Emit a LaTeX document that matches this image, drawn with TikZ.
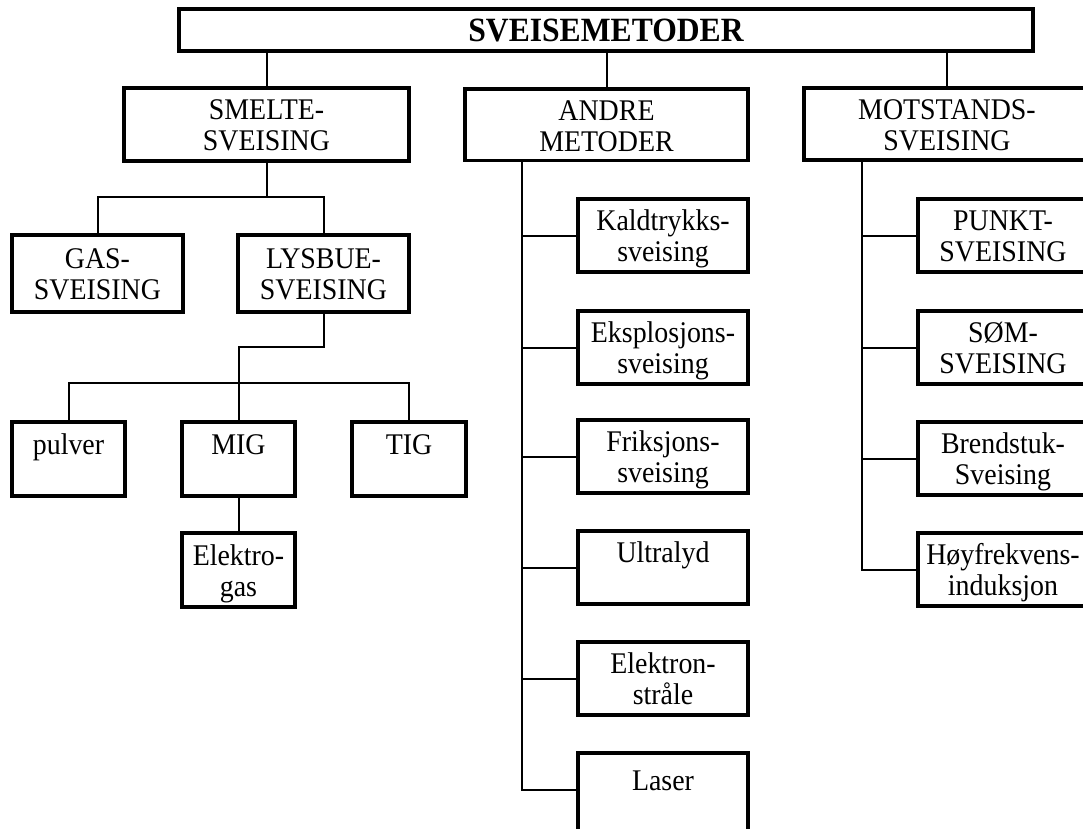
\documentclass[tikz,border=0pt]{standalone}
\usepackage{fontspec}
\setmainfont{Liberation Serif}[FakeStretch=0.93]
\newcommand\twol[2]{\begin{tabular}{@{}c@{}}\rule{0pt}{31pt}#1\\#2\end{tabular}}
\begin{document}
\begin{tikzpicture}[x=1pt,y=-1pt,
  box/.style={draw,line width=3.5pt,rectangle,inner sep=0pt,outer sep=0pt,anchor=north west,
    font=\fontsize{30}{31}\selectfont},
  link/.style={line width=2pt}]
\useasboundingbox (0,0) rectangle (1083,828);
\clip (0,0) rectangle (1083,828);
% title
\node[box,font=\bfseries\fontsize{34}{35}\selectfont,minimum width=854pt,minimum height=42pt] (title) at (179,9) {SVEISEMETODER};
% level 1
\node[box,minimum width=285pt,minimum height=73pt] (smelte) at (124,88) {\twol{SMELTE-}{SVEISING}};
\node[box,minimum width=283pt,minimum height=71pt] (andre) at (465,89) {\twol{ANDRE}{METODER}};
\node[box,minimum width=286pt,minimum height=72pt] (motst) at (804,88) {\twol{MOTSTANDS-}{SVEISING}};
% smelte branch
\node[box,minimum width=171pt,minimum height=77pt] (gas) at (12,235) {\twol{GAS-}{SVEISING}};
\node[box,minimum width=171pt,minimum height=77pt] (lysbue) at (238,235) {\twol{LYSBUE-}{SVEISING}};
\node[box,minimum width=113pt,minimum height=74pt] (pulver) at (12,422) {\twol{pulver}{\strut}};
\node[box,minimum width=113pt,minimum height=74pt] (mig) at (182,422) {\twol{MIG}{\strut}};
\node[box,minimum width=114pt,minimum height=74pt] (tig) at (352,422) {\twol{TIG}{\strut}};
\node[box,minimum width=113pt,minimum height=74pt] (elgas) at (182,533) {\twol{Elektro-}{gas}};
% andre branch
\node[box,minimum width=170pt,minimum height=73pt] (kald) at (578,199) {\twol{Kaldtrykks-}{sveising}};
\node[box,minimum width=170pt,minimum height=73pt] (eks) at (578,311) {\twol{Eksplosjons-}{sveising}};
\node[box,minimum width=170pt,minimum height=73pt] (fri) at (578,420) {\twol{Friksjons-}{sveising}};
\node[box,minimum width=170pt,minimum height=73pt] (ultra) at (578,531) {\twol{Ultralyd}{\strut}};
\node[box,minimum width=170pt,minimum height=73pt] (elek) at (578,642) {\twol{Elektron-}{stråle}};
\node[box,minimum width=170pt,minimum height=84pt] (laser) at (578,753) {\twol{Laser}{\strut}};
% motst branch
\node[box,minimum width=170pt,minimum height=73pt] (punkt) at (918,199) {\twol{PUNKT-}{SVEISING}};
\node[box,minimum width=170pt,minimum height=73pt] (som) at (918,311) {\twol{SØM-}{SVEISING}};
\node[box,minimum width=170pt,minimum height=73pt] (brend) at (918,422) {\twol{Brendstuk-}{Sveising}};
\node[box,minimum width=170pt,minimum height=73pt] (hoy) at (918,533) {\twol{Høyfrekvens-}{induksjon}};
% connectors from title
\draw[link] (title.south -| smelte.north) -- (smelte.north);
\draw[link] (title.south -| andre.north) -- (andre.north);
\draw[link] (title.south -| motst.north) -- (motst.north);
% smelte
\draw[link] (smelte.south) -- ++(0,36) coordinate (sj);
\draw[link] (gas.north) |- (sj) -| (lysbue.north);
\draw[link] (lysbue.south) -- ++(0,35) -| (mig.north);
\draw[link] (pulver.north) -- ++(0,-39) -| (tig.north);
\draw[link] (mig.south) -- (elgas.north);
% andre
\coordinate (av) at ([xshift=57pt]andre.south west);
\coordinate (lasj) at ([yshift=-37pt]laser.north west);
\draw[link] (av) |- (lasj);
\foreach \n in {kald,eks,fri,ultra,elek}{\draw[link] (av |- \n.west) -- (\n.west);}
% motst
\coordinate (mv) at ([xshift=58pt]motst.south west);
\draw[link] (mv) |- (hoy.west);
\foreach \n in {punkt,som,brend}{\draw[link] (mv |- \n.west) -- (\n.west);}
\end{tikzpicture}
\end{document}
